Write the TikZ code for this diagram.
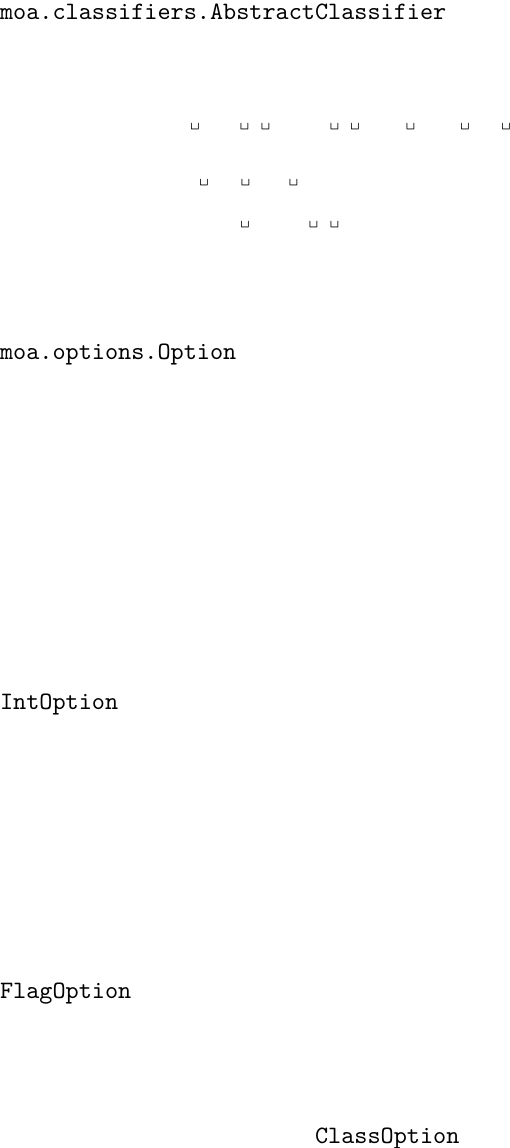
\documentclass[tikz,border=0pt]{standalone}
\usepackage{fontspec}
\begin{document}
\begin{tikzpicture}[x=0.4pt,y=-0.4pt,
  lbl/.style={anchor=base west,inner sep=0pt,outer sep=0pt,font=\ttfamily\fontsize{10}{12}\selectfont},
  vsp/.style={anchor=base,inner sep=0pt,outer sep=0pt,font=\ttfamily\fontsize{7}{8}\selectfont}]
\useasboundingbox (0,0) rectangle (510,1148);
\node[lbl] (abs) at (0,19) {moa.classifiers.AbstractClassifier};
\node[lbl] (opt) at (0,359.5) {moa.options.Option};
\node[lbl] (int) at (0,709.5) {IntOption};
\node[lbl] (flag) at (0,998.5) {FlagOption};
\node[lbl] (cls) at (315,1143) {ClassOption};
% visible spaces, row 1
\node[vsp] (a1) at (195,127) {\char"2423};
\node[vsp] (a2) at (244.5,127) {\char"2423};
\node[vsp] (a3) at (265.5,127) {\char"2423};
\node[vsp] (a4) at (334.5,127) {\char"2423};
\node[vsp] (a5) at (355,127) {\char"2423};
\node[vsp] (a6) at (410.5,127) {\char"2423};
\node[vsp] (a7) at (465,127) {\char"2423};
\node[vsp] (a8) at (506,127) {\char"2423};
% row 2
\node[vsp] (b1) at (204,183) {\char"2423};
\node[vsp] (b2) at (245.5,183) {\char"2423};
\node[vsp] (b3) at (293.5,183) {\char"2423};
% row 3
\node[vsp] (c1) at (245,225) {\char"2423};
\node[vsp] (c2) at (313.5,225) {\char"2423};
\node[vsp] (c3) at (334.5,225) {\char"2423};
\end{tikzpicture}
\end{document}
